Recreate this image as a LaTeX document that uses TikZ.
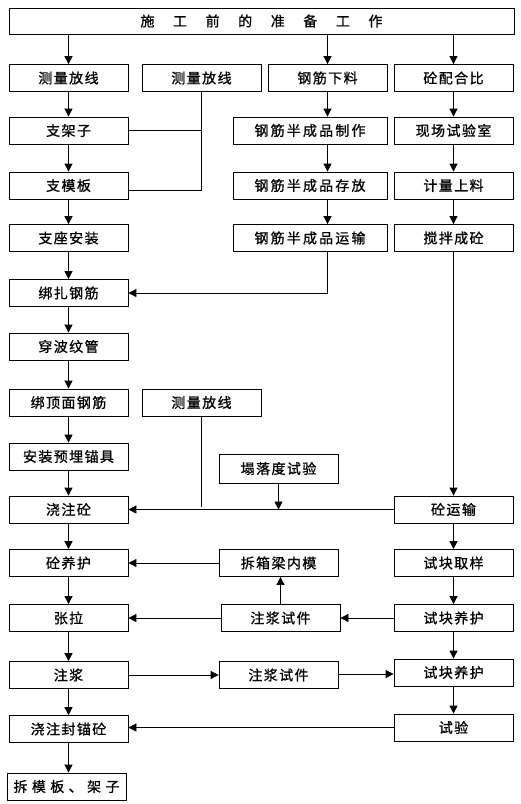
\documentclass[tikz,border=0pt]{standalone}
\usepackage{fontspec}
\setmainfont[FakeBold=0.9]{Noto Sans CJK SC}
\newfontfamily\bxfam[LetterSpace=10,FakeBold=0.9]{Noto Sans CJK SC}
\newcommand\bxf{\bxfam\fontsize{14pt}{16pt}\selectfont}
\newcommand\ttlf{\fontsize{14pt}{16pt}\selectfont}
\newcommand\spr[2]{\makebox[#1][s]{#2}}
\usetikzlibrary{arrows.meta}
\begin{document}
\begin{tikzpicture}[x=1pt,y=-1pt,
  box/.style={draw, line width=0.8pt, minimum width=119pt, minimum height=27pt, inner sep=0pt, font=\bxf},
  wbox/.style={box, minimum width=154pt, font=\ttlf},
  arr/.style={-{Triangle[width=8pt,length=8pt]}, line width=0.8pt},
  ln/.style={line width=0.8pt}]
\useasboundingbox (0,0) rectangle (521,804);
% title
\node[box, minimum width=505pt, minimum height=26pt, font=\ttlf] (top) at (261.5,21)
  {\spr{242pt}{施\hfill 工\hfill 前\hfill 的\hfill 准\hfill 备\hfill 工\hfill 作}};
% left column
\node[box] (l1) at (68.5,78) {测量放线};
\node[box] (l2) at (68.5,130.5) {支架子};
\node[box] (l3) at (68.5,185.5) {支模板};
\node[box] (l4) at (68.5,238) {支座安装};
\node[box] (l5) at (68.5,293) {绑扎钢筋};
\node[box] (l6) at (68.5,346.5) {穿波纹管};
\node[box] (l7) at (68.5,402.5) {绑顶面钢筋};
\node[box] (l8) at (68.5,456.5) {安装预埋锚具};
\node[box] (l9) at (68.5,509.5) {浇注砼};
\node[box] (l10) at (68.5,563) {砼养护};
\node[box] (l11) at (68.5,618) {张拉};
\node[box] (l12) at (68.5,675) {注浆};
\node[box] (l13) at (68.5,729) {浇注封锚砼};
\node[box, font=\ttlf] (l14) at (66.5,786.5) {\spr{106pt}{拆\hfill 模\hfill 板\hfill 、\hfill 架\hfill 子}};
% second column
\node[box] (b1) at (201.5,78) {测量放线};
\node[box] (b7) at (201.5,402.5) {测量放线};
% middle column
\node[box] (c1) at (327.5,78) {钢筋下料};
\node[wbox] (m2) at (310,130.5) {\spr{111pt}{钢\hfill 筋\hfill 半\hfill 成\hfill 品\hfill 制\hfill 作}};
\node[wbox] (m3) at (310,185.5) {\spr{111pt}{钢\hfill 筋\hfill 半\hfill 成\hfill 品\hfill 存\hfill 放}};
\node[wbox] (m4) at (310,238) {\spr{111pt}{钢\hfill 筋\hfill 半\hfill 成\hfill 品\hfill 运\hfill 输}};
\node[box, minimum height=29pt] (s8) at (278.5,468.5) {塌落度试验};
\node[box] (s10) at (278.5,563) {拆箱梁内模};
\node[box] (s11) at (280.5,618) {注浆试件};
\node[box] (s12) at (278.5,675) {注浆试件};
% right column
\node[box] (r1) at (453.5,78) {砼配合比};
\node[box] (r2) at (453.5,130.5) {现场试验室};
\node[box] (r3) at (453.5,185.5) {计量上料};
\node[box] (r4) at (453.5,238) {搅拌成砼};
\node[box] (r9) at (453.5,509.5) {砼运输};
\node[box] (r10) at (453.5,563) {试块取样};
\node[box] (r11) at (453.5,618) {试块养护};
\node[box] (r12) at (453.5,672.5) {试块养护};
\node[box] (r13) at (453.5,727.5) {试验};
% connectors from title
\draw[arr] (top.south -| l1) -- (l1);
\draw[arr] (top.south -| c1) -- (c1);
\draw[arr] (top.south -| r1) -- (r1);
% left chain
\foreach \a/\b in {l1/l2,l2/l3,l3/l4,l4/l5,l5/l6,l6/l7,l7/l8,l8/l9,l9/l10,l10/l11,l11/l12,l12/l13}
  \draw[arr] (\a) -- (\b);
\draw[arr] (l13.south) -- (l13.south |- l14.north);
% steel chain
\draw[arr] (c1) -- (c1 |- m2.north);
\draw[arr] (m2.south -| c1) -- (c1 |- m3.north);
\draw[arr] (m3.south -| c1) -- (c1 |- m4.north);
\draw[arr] (m4.south -| c1) |- (l5.east);
% concrete chain
\foreach \a/\b in {r1/r2,r2/r3,r3/r4,r4/r9,r9/r10,r10/r11,r11/r12,r12/r13}
  \draw[arr] (\a) -- (\b);
% survey lines
\draw[ln] (l2.east) -| (b1.south);
\draw[ln] (b1.south) |- ([yshift=-4.5pt]l3.east);
\draw[ln] (b7.south) -- ([yshift=2.5pt]b7.south |- l9.east);
% concrete pour
\draw[arr] (s8) -- (s8 |- l9.east);
\draw[arr] (r9) -- (l9);
% curing / tension
\draw[arr] (s10) -- (l10);
\draw[arr] (s11) -- (s11 |- s10.south);
\draw[arr] (r11) -- (s11);
\draw[arr] (s11) -- (l11);
% grouting
\draw[arr] (l12.east) -- (l12.east -| s12.west);
\draw[arr] (s12.east |- 0,674) -- (r12.west |- 0,674);
\draw[arr] (r13.west) -- (r13.west -| l13.east);
\end{tikzpicture}
\end{document}
